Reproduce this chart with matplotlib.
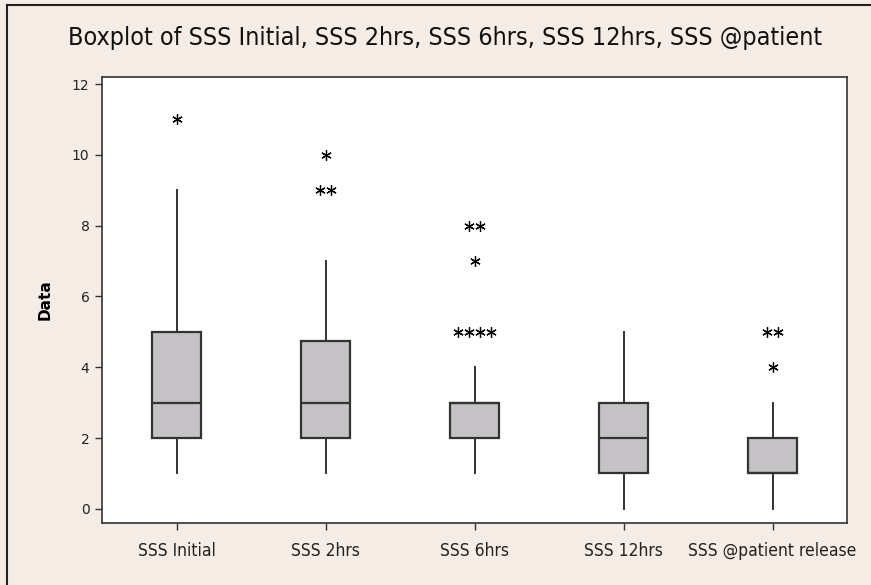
import matplotlib
matplotlib.use('Agg')
import matplotlib.pyplot as plt
from matplotlib.lines import Line2D
import numpy as np

# five-number summaries
labels = ['SSS Initial', 'SSS 2hrs', 'SSS 6hrs', 'SSS 12hrs', 'SSS @patient release']
whislo = [1, 1, 1, 0, 0]
q1 = [2, 2, 2, 1, 1]
med = [3, 3, 3, 2, 1]
q3 = [5, 4.75, 3, 3, 2]
whishi = [9, 7, 4, 5, 3]

# outliers: (value, count) per group
outliers = [
    [(11, 1)],
    [(10, 1), (9, 2)],
    [(8, 2), (7, 1), (5, 4)],
    [],
    [(5, 2), (4, 1)],
]

bg = '#F5ECE6'
line_col = '#333333'

fig = plt.figure(figsize=(8.71, 5.85), dpi=100, facecolor=bg)
ax = fig.add_axes([102/871, 1 - 523/585, (847 - 102)/871, (523 - 77)/585])
ax.set_facecolor('white')

stats = []
for i in range(len(labels)):
    stats.append(dict(label=labels[i], whislo=whislo[i], q1=q1[i], med=med[i],
                      q3=q3[i], whishi=whishi[i], fliers=[]))

pos = np.arange(1, len(labels) + 1)
ax.bxp(stats, positions=pos, widths=0.335, showcaps=False, showfliers=False,
       patch_artist=True,
       boxprops=dict(facecolor='#C4C2C4', edgecolor=line_col, linewidth=1.6),
       medianprops=dict(color=line_col, linewidth=1.6),
       whiskerprops=dict(color=line_col, linewidth=1.4))

step = 0.074
for p, grp in zip(pos, outliers):
    for val, n in grp:
        xs = p + (np.arange(n) - (n - 1) / 2) * step
        ax.plot(xs, [val] * n, linestyle='none', marker=(6, 2, 0),
                markersize=7.5, markeredgewidth=0.9, color='black')

ax.set_xlim(0.5, 5.5)
ax.set_ylim(-0.4, 12.2)
ax.set_yticks([0, 2, 4, 6, 8, 10, 12])
ax.set_xticks(pos)
ax.set_xticklabels(labels)

for lab in ax.get_yticklabels():
    lab.set_fontsize(10)
    lab.set_color('#222222')
for lab in ax.get_xticklabels():
    lab.set_fontsize(12.5)
    lab.set_fontstretch('condensed')
    lab.set_color('#222222')
ax.tick_params(direction='out', length=5, width=1, color=line_col, pad=4)
ax.tick_params(axis='x', pad=9)
for s in ax.spines.values():
    s.set_color(line_col)
    s.set_linewidth(1.2)

ax.set_ylabel('Data', fontsize=11, fontweight='bold', labelpad=14)

fig.text(0.511, 0.935, 'Boxplot of SSS Initial, SSS 2hrs, SSS 6hrs, SSS 12hrs, SSS @patient',
         ha='center', va='center', fontsize=18, stretch='condensed',
         color='#111111')

# outer frame lines (left and top)
fig.add_artist(Line2D([7/871, 7/871], [0, 1 - 5/585], transform=fig.transFigure,
                      color='#222222', linewidth=1.5))
fig.add_artist(Line2D([7/871, 1], [1 - 5/585, 1 - 5/585], transform=fig.transFigure,
                      color='#222222', linewidth=1.5))

fig.savefig('out.png', dpi=100, facecolor=bg)
